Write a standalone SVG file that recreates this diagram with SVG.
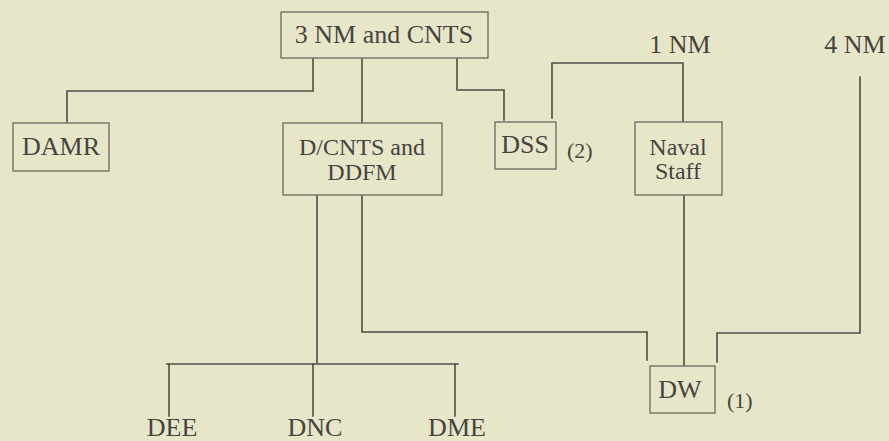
<svg xmlns="http://www.w3.org/2000/svg" width="889" height="441" viewBox="0 0 889 441">
<style>
.bg{fill:#e8e6c9}
.box{fill:none;stroke:#6a6862;stroke-width:1.3}
.w{fill:none;stroke:#4e4c46;stroke-width:1.6;stroke-linecap:square}
.t{font-size:26px;fill:#46443f;text-anchor:middle}
.m{font-size:24px}
.s{font-size:22px;text-anchor:start}
</style>
<rect class="bg" x="0" y="0" width="889" height="441"/>
<g id="connectors">
<polyline class="w" points="313,59 313,91 67,91 67,122"/>
<polyline class="w" points="362,59 362,122"/>
<polyline class="w" points="457,59 457,90 504,90 504,120"/>
<polyline class="w" points="552,118 552,63 683,63 683,121"/>
<polyline class="w" points="860,77 860,333 717,333 717,362"/>
<polyline class="w" points="684,196 684,365"/>
<polyline class="w" points="362,196 362,332 647,332 647,360"/>
<polyline class="w" points="317,196 317,363"/>
<polyline class="w" points="167,364 458,364"/>
<polyline class="w" points="169,364 169,416"/>
<polyline class="w" points="313,364 313,416"/>
<polyline class="w" points="455,364 455,416"/>
</g>
<g font-family="'Liberation Serif', 'Times New Roman', 'DejaVu Serif', serif">
<g id="n-3nm"><rect class="box" x="281" y="12" width="207" height="46"/><text class="t" x="384" y="43">3 NM and CNTS</text></g>
<g id="n-damr"><rect class="box" x="13" y="123" width="96" height="48"/><text class="t" x="61" y="155">DAMR</text></g>
<g id="n-dcnts"><rect class="box" x="283" y="123" width="159" height="72"/><text class="t m" x="362" y="155">D/CNTS and</text><text class="t m" x="362" y="180">DDFM</text></g>
<g id="n-dss"><rect class="box" x="495" y="122" width="61" height="47"/><text class="t" x="525" y="153">DSS</text><text class="t s" x="567" y="158">(2)</text></g>
<g id="n-naval"><rect class="box" x="635" y="122" width="87" height="73"/><text class="t m" x="678" y="155">Naval</text><text class="t m" x="678" y="179">Staff</text></g>
<g id="n-1nm"><text class="t" x="680" y="53">1 NM</text></g>
<g id="n-4nm"><text class="t" x="855" y="53">4 NM</text></g>
<g id="n-dw"><rect class="box" x="650" y="366" width="65" height="47"/><text class="t" x="680" y="398">DW</text><text class="t s" x="727" y="408">(1)</text></g>
<g id="n-dee"><text class="t" x="172" y="436">DEE</text></g>
<g id="n-dnc"><text class="t" x="315" y="436">DNC</text></g>
<g id="n-dme"><text class="t" x="457" y="436">DME</text></g>
</g>
</svg>
